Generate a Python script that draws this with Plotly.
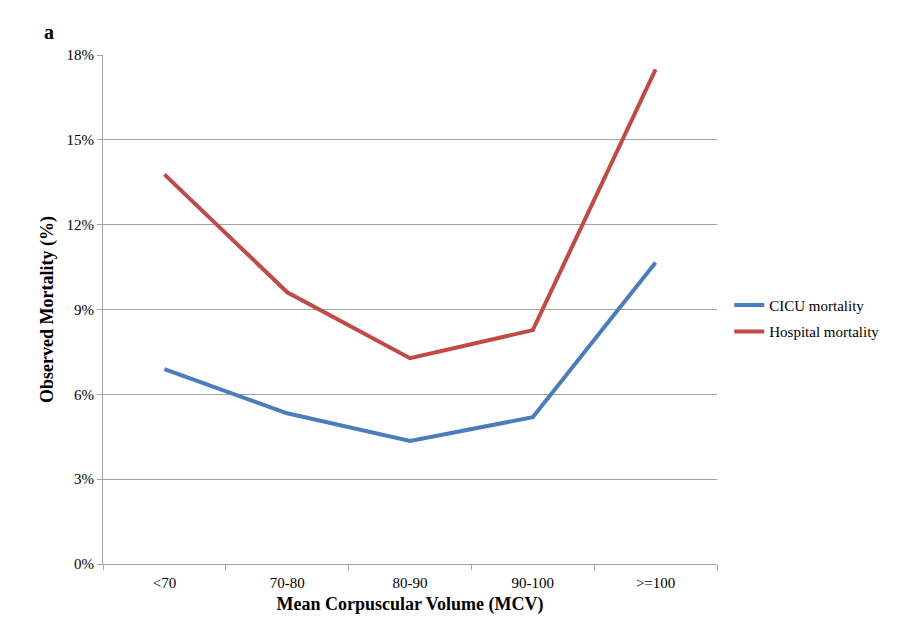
import plotly.graph_objects as go

categories = ["<70", "70-80", "80-90", "90-100", ">=100"]
cicu = [0.0689, 0.0533, 0.0435, 0.0519, 0.1066]
hospital = [0.1378, 0.0961, 0.0728, 0.0827, 0.1749]

fig = go.Figure()
fig.add_trace(go.Scatter(x=categories, y=cicu, mode="lines", name="CICU mortality",
                         legendgroup="a",
                         line=dict(color="#4A7EBB", width=4)))
fig.add_trace(go.Scatter(x=categories, y=hospital, mode="lines", name="Hospital mortality",
                         legendgroup="b",
                         line=dict(color="#BE4B48", width=4)))

font = "Liberation Serif, Times New Roman, serif"
fig.update_layout(
    width=912, height=633,
    margin=dict(l=103, r=195, t=55, b=69),
    paper_bgcolor="white", plot_bgcolor="white",
    font=dict(family=font, size=15, color="black"),
    legend=dict(x=1.02, y=0.483, xanchor="left", yanchor="middle",
                font=dict(family=font, size=15), tracegroupgap=4),
    xaxis=dict(
        type="category", range=[-0.5, 4.5], tickson="boundaries",
        ticks="outside", ticklen=5, tickcolor="#A0A0A0",
        showline=True, linecolor="#A0A0A0", linewidth=1,
        showgrid=False, tickfont=dict(size=15), ticklabelstandoff=5,
        title=dict(text="<b>Mean Corpuscular Volume (MCV)</b>",
                   font=dict(size=18), standoff=7),
    ),
    yaxis=dict(
        range=[0, 0.18], dtick=0.03, tickformat=".0%",
        ticks="outside", ticklen=5, tickcolor="#A0A0A0",
        showline=True, linecolor="#A0A0A0", linewidth=1,
        showgrid=True, gridcolor="#A0A0A0", gridwidth=1,
        zeroline=False, tickfont=dict(size=15),
        title=dict(text="<b>Observed Mortality (%)</b>", font=dict(size=18), standoff=8),
    ),
    annotations=[dict(text="<b>a</b>", xref="paper", yref="paper", x=-0.100, y=1.045,
                      xanchor="left", yanchor="middle",
                      showarrow=False, font=dict(size=20))],
)
fig.write_html("out.html")
